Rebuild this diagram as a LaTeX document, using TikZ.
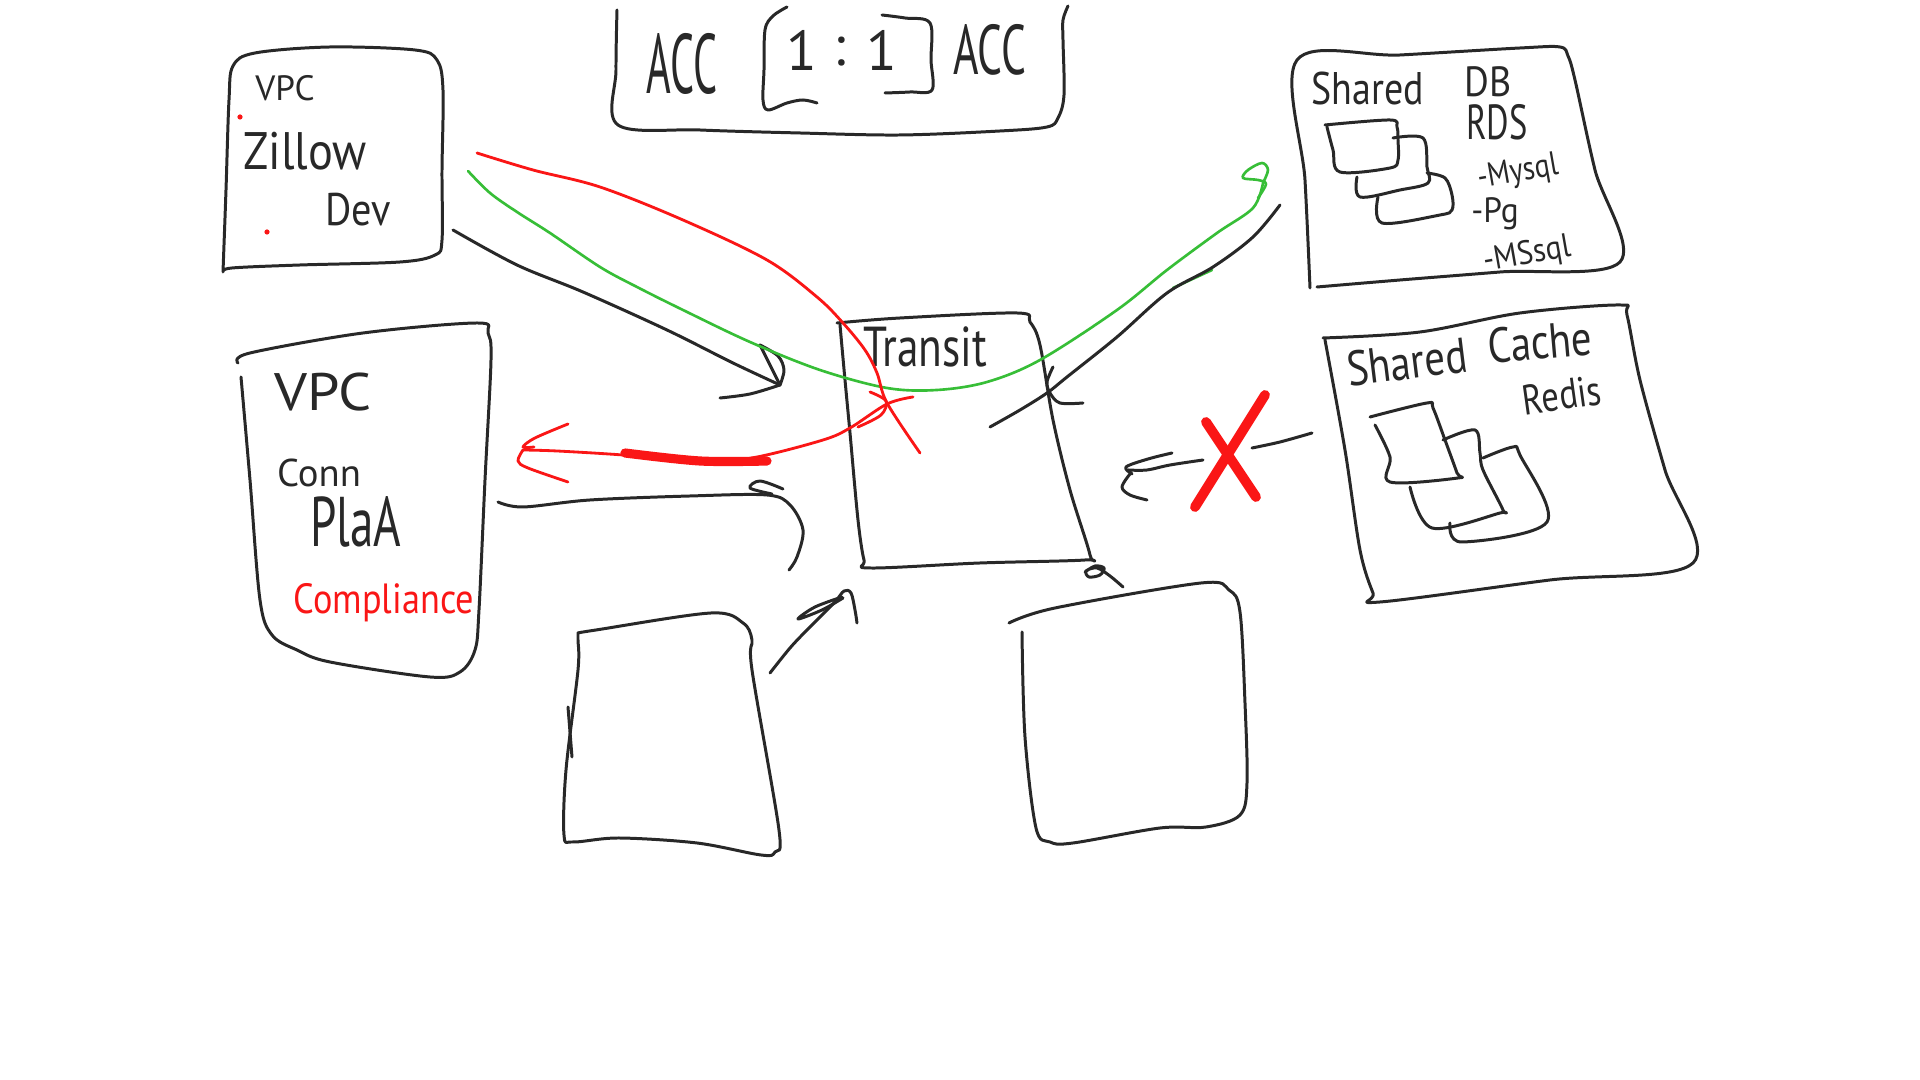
\documentclass[tikz,border=0pt]{standalone}
\usepackage{graphicx}
\usepackage{fontspec}
\setmainfont{PT Sans}
\definecolor{ink}{RGB}{40,40,40}
\definecolor{mred}{RGB}{250,22,22}
\definecolor{mgreen}{RGB}{55,190,55}
\newcommand\handtxt[3]{\fontsize{#1}{#1}\selectfont\scalebox{#2}[1]{#3}}
\tikzset{
  inkline/.style={draw=ink, line width=0.85pt, line cap=round, line join=round},
  redline/.style={draw=mred, line width=0.8pt, line cap=round, line join=round},
  greenline/.style={draw=mgreen, line width=0.75pt, line cap=round, line join=round},
  lbl/.style={text=ink, inner sep=0pt},
  redlbl/.style={text=mred, inner sep=0pt},
  sm/.style={smooth, tension=0.55}
}
\begin{document}
\begin{tikzpicture}[x=0.01cm, y=-0.01cm]
\useasboundingbox[fill=white] (0,0) rectangle (1920,1080);

% ---------- top ACC box ----------
\draw[inkline] plot[sm] coordinates {(617,10) (616,70) (618,125) (700,130) (800,133) (900,135) (1000,131) (1047,127) (1058,118) (1064,95) (1063,40) (1063,20) (1068,6)};
% brackets
\draw[inkline] plot[sm] coordinates {(787,7) (773,16) (765,30) (764,70) (763,100) (768,110) (787,103) (803,100) (817,103)};
\draw[inkline] plot[sm] coordinates {(882,15) (905,18) (930,23) (931,60) (932,90) (910,92) (885,93)};
\node[lbl] (accL) at (682,64) {\handtxt{24}{0.5}{ACC}};
\node[lbl] (oneL) at (802,50) {\handtxt{16}{1}{1}};
\node[lbl] (colon) at (840,52) {\handtxt{16}{1}{:}};
\node[lbl] (oneR) at (882,50) {\handtxt{16}{1}{1}};
\node[lbl] (accR) at (990,50) {\handtxt{20}{0.62}{ACC}};

% ---------- VPC Zillow Dev ----------
\draw[inkline] plot[sm] coordinates {(223,272) (226,190) (229,100) (233,66) (255,53) (330,47) (415,50) (437,60) (443,90) (442,170) (442,240) (435,255) (400,262) (300,265) (232,268) (223,272)};
\node[lbl] (vpcA) at (285,88) {\handtxt{10}{1}{VPC}};
\node[lbl] (zillow) at (305,151) {\handtxt{15}{0.88}{Zillow}};
\node[lbl] (dev) at (358,210) {\handtxt{13}{0.88}{Dev}};
\fill[mred] (240,117) circle (2.6);
\fill[mred] (267,232) circle (2.6);

% ---------- VPC Conn PlaA ----------
\draw[inkline] plot[sm] coordinates {(238,363) (250,353) (363,333) (477,323) (488,333) (491,360) (485,480) (479,610) (475,650) (460,672) (430,677) (330,662) (297,650) (272,635) (260,600) (250,480) (241,377)};
\node[lbl] (vpcB) at (323,392) {\handtxt{15}{1.1}{VPC}};
\node[lbl] (conn) at (319,473) {\handtxt{11}{1}{Conn}};
\node[lbl] (plaa) at (356,522) {\handtxt{20}{0.67}{PlaA}};
\node[redlbl] (compl) at (384,603) {\handtxt{12}{0.86}{Compliance}};

% ---------- Transit ----------
\draw[inkline] plot[sm] coordinates {(837,323) (900,318) (1017,313) (1030,322) (1040,345) (1053,420) (1070,490) (1090,555) (1085,560) (980,563) (870,568) (864,560) (858,520) (850,433) (845,380) (840,325)};
\node[lbl] (transit) at (925,347) {\handtxt{16}{0.77}{Transit}};
\draw[inkline] plot[sm] coordinates {(1085,572) (1095,566) (1104,568) (1100,575) (1089,577) (1086,571) (1097,568) (1110,576) (1123,587)};

% ---------- lower boxes ----------
\draw[inkline] plot[sm] coordinates {(578,633) (596,630) (711,613) (743,623) (752,640) (752,670) (779,830) (775,852) (761,855) (697,843) (619,838) (573,842) (564,835) (566,770) (578,670) (578,640) (578,633)};
\draw[inkline] (568,707) -- (572,757);
\draw[inkline] plot[sm] coordinates {(1009,623) (1055,608) (1201,583) (1229,590) (1240,612) (1245,703) (1247,783) (1240,815) (1206,827) (1160,828) (1073,843) (1050,842) (1036,828) (1025,737) (1022,632)};

% ---------- Shared DB ----------
\draw[inkline] plot[sm] coordinates {(1310,288) (1305,180) (1297,60) (1400,55) (1520,48) (1560,47) (1568,56) (1575,80) (1595,170) (1620,262) (1500,272) (1400,280) (1317,287)};
\draw[inkline] plot[sm] coordinates {(1325,125) (1390,120) (1397,127) (1398,140) (1398,160) (1390,168) (1340,172) (1333,150) (1327,127)};
\draw[inkline] plot[sm] coordinates {(1393,138) (1423,138) (1427,167) (1428,183) (1400,190) (1360,197) (1357,177)};
\draw[inkline] plot[sm] coordinates {(1427,173) (1445,178) (1452,195) (1452,210) (1440,215) (1382,223) (1378,197)};
\node[lbl] (shared) at (1368,89) {\handtxt{13}{0.83}{Shared}};
\node[lbl] (db) at (1488,82) {\handtxt{12}{0.9}{DB}};
\node[lbl] (rds) at (1497,122) {\handtxt{14}{0.7}{RDS}};
\node[lbl, rotate=10] (mysql) at (1518,173) {\handtxt{9.5}{0.85}{-Mysql}};
\node[lbl] (pg) at (1495,214) {\handtxt{10}{0.95}{-Pg}};
\node[lbl, rotate=10] (mssql) at (1527,255) {\handtxt{9.5}{0.9}{-MSsql}};

% ---------- Shared Cache ----------
\draw[inkline] plot[sm] coordinates {(1323,338) (1420,332) (1520,313) (1620,305) (1627,315) (1640,380) (1665,470) (1693,563) (1550,580) (1380,602) (1373,593) (1360,550) (1345,450) (1325,340)};
\draw[inkline] plot[sm] coordinates {(1370,417) (1427,403) (1433,408) (1445,440) (1457,473) (1458,478) (1390,482) (1390,457) (1375,425)};
\draw[inkline] plot[sm] coordinates {(1443,440) (1475,430) (1480,453) (1483,470) (1503,510) (1500,513) (1432,528) (1410,487)};
\draw[inkline] plot[sm] coordinates {(1483,458) (1513,447) (1520,455) (1547,522) (1462,542) (1450,523)};
\node[lbl, rotate=7] (sharedc) at (1407,362) {\handtxt{14}{0.83}{Shared}};
\node[lbl, rotate=5] (cache) at (1540,342) {\handtxt{14}{0.83}{Cache}};
\node[lbl, rotate=8] (redis) at (1562,395) {\handtxt{12}{0.82}{Redis}};

% ---------- connectors ----------
\coordinate (zA) at (453,230);
\coordinate (tA) at (780,385);
\draw[inkline] plot[sm] coordinates {(zA) (517,265) (583,292) (667,330) (733,363) (tA)};
\draw[inkline] plot[sm] coordinates {(760,345) (778,356) (784,370) (tA)};
\draw[inkline] (760,345) -- (tA);
\draw[inkline] plot[sm] coordinates {(720,398) (750,394) (tA)};

% green
\coordinate (gA) at (468,171);
\coordinate (gB) at (1263,183);
\draw[greenline] plot[sm] coordinates {(gA) (490,193) (517,212) (550,233) (600,267) (637,287) (683,310) (750,342) (820,370) (887,388) (937,390) (987,382) (1040,360) (1117,310) (1167,270) (1217,233) (1253,208) (gB)};
\draw[greenline] plot[sm] coordinates {(gB) (1268,170) (1262,163) (1248,170) (1243,178) (1258,180) (1266,184) (1258,198)};
\draw[greenline] (1173,288) -- (1212,270);

% red 1
\coordinate (rA) at (477,153);
\coordinate (rB) at (920,453);
\draw[redline] plot[sm] coordinates {(rA) (533,170) (600,187) (683,220) (767,260) (817,297) (843,323) (865,350) (877,373) (887,403) (rB)};
% red 2
\coordinate (rC) at (913,397);
\coordinate (rD) at (523,450);
\draw[redline] plot[sm] coordinates {(rC) (887,404) (850,428) (823,440) (757,457) (707,462) (623,455) (557,451) (rD)};
\draw[redline] plot[sm] coordinates {(870,392) (886,401) (881,415) (858,427)};
\draw[redline, line width=2.6pt] plot[sm] coordinates {(625,453) (700,461) (767,461)};
\draw[redline] plot[sm] coordinates {(568,424) (535,438) (523,447) (534,447)};
\draw[redline] plot[sm] coordinates {(rD) (518,461) (528,468) (568,482)};

% black DB -> transit
\coordinate (bA) at (1280,205);
\coordinate (bB) at (990,427);
\draw[inkline] plot[sm] coordinates {(bA) (1253,237) (1213,267) (1167,293) (1117,337) (1067,377) (1047,393) (1020,410) (bB)};
\draw[inkline] plot[sm] coordinates {(1053,367) (1047,382) (1050,393) (1060,403) (1083,403)};

% black Conn -> lower box
\coordinate (cA) at (498,502);
\coordinate (cB) at (789,570);
\draw[inkline] plot[sm] coordinates {(cA) (523,507) (590,500) (690,496) (767,495) (790,505) (803,530) (797,557) (cB)};
\draw[inkline] plot[sm] coordinates {(772,494) (750,488) (760,481) (783,489)};

% ascending arrow
\coordinate (dA) at (770,673);
\coordinate (dB) at (857,623);
\draw[inkline] plot[sm] coordinates {(dA) (790,648) (807,630) (834,603) (844,591) (851,593) (855,610) (dB)};
\draw[inkline] plot[sm] coordinates {(842,597) (815,607) (798,619) (822,610) (843,598)};

% cache -> transit, crossed out
\coordinate (xA) at (1312,433);
\coordinate (xB) at (1252,448);
\coordinate (xC) at (1203,460);
\coordinate (xD) at (1128,470);
\draw[inkline] plot[sm] coordinates {(xA) (1280,442) (xB)};
\draw[inkline] plot[sm] coordinates {(xC) (1170,465) (1147,470) (xD)};
\draw[inkline] plot[sm] coordinates {(1172,453) (1148,459) (1126,467) (1132,474) (xD)};
\draw[inkline] plot[sm] coordinates {(1130,474) (1122,487) (1130,495) (1147,500)};
\draw[redline, line width=2.8pt] (1265,395) -- (1195,507);
\draw[redline, line width=2.8pt] (1206,422) -- (1256,497);
\end{tikzpicture}
\end{document}
